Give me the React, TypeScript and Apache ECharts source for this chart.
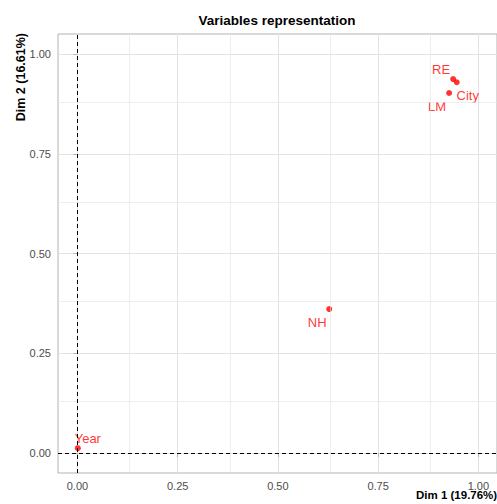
import React, { useEffect, useRef } from "react";
import * as echarts from "echarts";

const variables = ["Year", "NH", "LM", "RE", "City"];
const dim1 = [0.001, 0.628, 0.927, 0.937, 0.946];
const dim2 = [0.012, 0.361, 0.903, 0.938, 0.93];
const majorTicks = [0, 0.25, 0.5, 0.75, 1.0];
const minorTicks = [0.125, 0.375, 0.625, 0.875];
const titleText = "Variables representation";
const xTitle = "Dim 1 (19.76%)";
const yTitle = "Dim 2 (16.61%)";

// label offsets (layout only)
const labelOffsets: [number, number][] = [
  [10, -10],
  [-12, 13],
  [-12, 13],
  [-12, -10],
  [11, 13],
];

const FONT = "Liberation Sans, Arial, Helvetica, sans-serif";

export default function App() {
  const ref = useRef<HTMLDivElement>(null);
  useEffect(() => {
    document.body.style.margin = "0";
    const chart = echarts.init(ref.current!, undefined, { renderer: "svg" });
    const fmt = (v: number) => v.toFixed(2);
    const gridColor = "#E3E3E3";
    const option: any = {
      animation: false,
      backgroundColor: "#ffffff",
      textStyle: { fontFamily: FONT },
      grid: {
        left: 58,
        top: 34,
        right: 0,
        bottom: 31,
        show: true,
        borderColor: "#B3B3B3",
        borderWidth: 1,
        backgroundColor: "transparent",
      },
      xAxis: {
        type: "value",
        min: -0.0484,
        max: 1.0464,
        axisLine: { show: false },
        axisTick: { show: true, length: 4, lineStyle: { color: "#B3B3B3" }, customValues: majorTicks },
        axisLabel: {
          customValues: majorTicks,
          formatter: fmt,
          color: "#4D4D4D",
          fontSize: 11,
          margin: 7,
          fontFamily: FONT,
        },
        splitLine: { show: true, lineStyle: { color: gridColor, width: 1 } },
      },
      yAxis: {
        type: "value",
        min: -0.0502,
        max: 1.051,
        axisLine: { show: false },
        axisTick: { show: true, length: 4, lineStyle: { color: "#B3B3B3" }, customValues: majorTicks },
        axisLabel: {
          customValues: majorTicks,
          formatter: fmt,
          color: "#4D4D4D",
          fontSize: 11,
          margin: 7,
          fontFamily: FONT,
        },
        splitLine: { show: true, lineStyle: { color: gridColor, width: 1 } },
      },
      graphic: [
        {
          type: "text",
          x: 277,
          y: 20.5,
          style: {
            text: titleText,
            fontSize: 13.5,
            fontWeight: "bold",
            fontFamily: FONT,
            fill: "#000",
            align: "center",
            verticalAlign: "middle",
          },
        },
        {
          type: "text",
          x: 416,
          y: 495,
          style: {
            text: xTitle,
            fontSize: 11.5,
            fontWeight: "bold",
            fontFamily: FONT,
            fill: "#000",
            align: "left",
            verticalAlign: "middle",
          },
        },
        {
          type: "text",
          x: 20.5,
          y: 33,
          rotation: Math.PI / 2,
          style: {
            text: yTitle,
            fontSize: 12.5,
            fontWeight: "bold",
            fontFamily: FONT,
            fill: "#000",
            align: "right",
            verticalAlign: "middle",
          },
        },
      ],
      series: [
        {
          type: "scatter",
          data: [],
          z: 1,
          silent: true,
          markLine: {
            silent: true,
            symbol: "none",
            label: { show: false },
            lineStyle: { color: gridColor, width: 0.6, type: "solid" },
            data: [
              ...minorTicks.map((v) => ({ xAxis: v })),
              ...minorTicks.map((v) => ({ yAxis: v })),
            ],
          },
        },
        {
          type: "scatter",
          z: 2,
          silent: true,
          data: [],
          markLine: {
            silent: true,
            symbol: "none",
            label: { show: false },
            lineStyle: { color: "#000", width: 1, type: [4, 3] },
            data: [{ xAxis: 0 }, { yAxis: 0 }],
          },
        },
        {
          type: "scatter",
          z: 3,
          symbol: "circle",
          symbolSize: 6,
          itemStyle: { color: "#FF0000" },
          data: variables.map((name, i) => ({
            name,
            value: [dim1[i], dim2[i]],
            label: {
              show: true,
              formatter: name,
              position: "inside",
              offset: labelOffsets[i],
              color: "#FF0000",
              fontSize: 13,
              fontFamily: FONT,
              align: "center",
              verticalAlign: "middle",
            },
          })),
        },
      ],
    };
    chart.setOption(option);
    return () => chart.dispose();
  }, []);
  return <div ref={ref} style={{ width: 497, height: 504 }} />;
}
